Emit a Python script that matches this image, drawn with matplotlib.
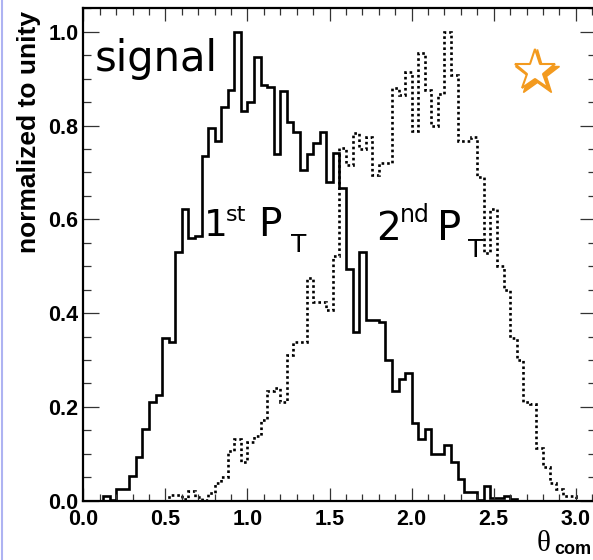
import numpy as np
import matplotlib
matplotlib.use("Agg")
import matplotlib.pyplot as plt
from matplotlib.ticker import MultipleLocator, FormatStrFormatter
from matplotlib.lines import Line2D

# theta_com histograms, 78 bins of 0.04 from 0 to 3.12, normalized to max = 1
bin_edges = np.linspace(0.0, 3.12, 79)

first_pt = [
    0.0, 0.0, 0.0, 0.010, 0.002, 0.025, 0.025, 0.052, 0.093, 0.152,
    0.211, 0.226, 0.347, 0.339, 0.530, 0.621, 0.560, 0.564, 0.734, 0.795,
    0.766, 0.840, 0.875, 1.000, 0.832, 0.850, 0.947, 0.887, 0.882, 0.740,
    0.873, 0.807, 0.787, 0.706, 0.740, 0.762, 0.786, 0.679, 0.741, 0.666,
    0.494, 0.360, 0.530, 0.386, 0.386, 0.380, 0.300, 0.233, 0.259, 0.272,
    0.165, 0.131, 0.153, 0.100, 0.100, 0.119, 0.083, 0.046, 0.019, 0.019,
    0.002, 0.031, 0.006, 0.006, 0.011, 0.003, 0.0, 0.0, 0.0, 0.0,
    0.0, 0.0, 0.0, 0.0, 0.0, 0.0, 0.0, 0.0,
]

second_pt = [
    0.0, 0.0, 0.0, 0.0, 0.0, 0.0, 0.0, 0.0, 0.0, 0.0,
    0.0, 0.0, 0.0, 0.012, 0.012, 0.003, 0.021, 0.008, 0.002, 0.017,
    0.038, 0.051, 0.107, 0.131, 0.083, 0.126, 0.137, 0.172, 0.233, 0.240,
    0.211, 0.311, 0.339, 0.339, 0.475, 0.424, 0.424, 0.406, 0.521, 0.752,
    0.715, 0.784, 0.749, 0.776, 0.695, 0.720, 0.720, 0.880, 0.866, 0.914,
    0.788, 0.954, 0.875, 0.800, 0.868, 1.000, 0.907, 0.766, 0.766, 0.776,
    0.690, 0.528, 0.621, 0.500, 0.450, 0.347, 0.299, 0.211, 0.206, 0.112,
    0.071, 0.038, 0.026, 0.011, 0.011, 0.0, 0.0, 0.0,
]

W, H = 593, 560
fig = plt.figure(figsize=(W / 100, H / 100), dpi=100)


def px(x, y):
    # pixel position (from top-left) -> figure fraction
    return x / W, 1 - y / H


ax = fig.add_axes([83.3 / W, 1 - 500.7 / H, 512.2 / W, 492.4 / H])

ax.stairs(first_pt, bin_edges, color="black", linewidth=1.9)
ax.stairs(second_pt, bin_edges, color="black", linewidth=1.9,
          linestyle=(0, (1.0, 1.1)))

ax.set_xlim(0, 3.12)
ax.set_ylim(0, 1.05)

for side in ax.spines.values():
    side.set_linewidth(1.6)

ax.xaxis.set_major_locator(MultipleLocator(0.5))
ax.xaxis.set_minor_locator(MultipleLocator(0.1))
ax.yaxis.set_major_locator(MultipleLocator(0.2))
ax.yaxis.set_minor_locator(MultipleLocator(0.05))
ax.xaxis.set_major_formatter(FormatStrFormatter("%.1f"))
ax.yaxis.set_major_formatter(FormatStrFormatter("%.1f"))

ax.tick_params(axis="both", which="both", direction="in",
               top=True, right=True, color="#333333", width=0.9)
ax.tick_params(axis="x", which="major", length=9.5, pad=6)
ax.tick_params(axis="x", which="minor", length=5)
ax.tick_params(axis="y", which="major", length=11.5, pad=3.5)
ax.tick_params(axis="y", which="minor", length=6)

for lab in ax.get_xticklabels() + ax.get_yticklabels():
    lab.set_fontfamily("Liberation Sans")
    lab.set_fontweight("bold")
    lab.set_fontsize(15.5)

# axis titles, ROOT style
fig.text(*px(29, 11), "normalized to unity", rotation=90, ha="center",
         va="top", fontsize=19, fontweight="bold",
         family="Liberation Sans")
fig.text(*px(537, 551), "\u03b8", fontsize=21, family="Liberation Serif",
         ha="left", va="baseline")
fig.text(*px(554, 554), "com", fontsize=13, fontweight="bold",
         family="Liberation Sans", ha="left", va="baseline")

# labels inside the frame
fig.text(*px(95, 71), "signal", fontsize=30, ha="left", va="baseline")

fig.text(*px(204, 236), "1", fontsize=27, ha="left", va="baseline")
fig.text(*px(226, 221), "st", fontsize=16, ha="left", va="baseline")
fig.text(*px(258, 236), "P", fontsize=28, ha="left", va="baseline")
fig.text(*px(291, 252), "T", fontsize=18, ha="left", va="baseline")

fig.text(*px(376, 240), "2", fontsize=28, ha="left", va="baseline")
fig.text(*px(400, 222), "nd", fontsize=17, ha="left", va="baseline")
fig.text(*px(437, 240), "P", fontsize=29, ha="left", va="baseline")
fig.text(*px(468, 257), "T", fontsize=18, ha="left", va="baseline")

# orange open star
sx, sy = px(535, 71)
fig.add_artist(Line2D([sx + 1.5 / W], [sy - 1.5 / H], marker="*",
                      markersize=34, color="#f39a1e", linestyle="none",
                      transform=fig.transFigure))
fig.add_artist(Line2D([sx], [sy], marker="*", markersize=31,
                      markerfacecolor="white", markeredgecolor="#f39a1e",
                      markeredgewidth=1.5, linestyle="none",
                      transform=fig.transFigure))

# thin coloured edge on the left of the canvas
fig.add_artist(Line2D([1.5 / W, 1.5 / W], [0, 1], color="#aeb3f2",
                      linewidth=1.5, transform=fig.transFigure))

fig.savefig("out.png", dpi=100)
